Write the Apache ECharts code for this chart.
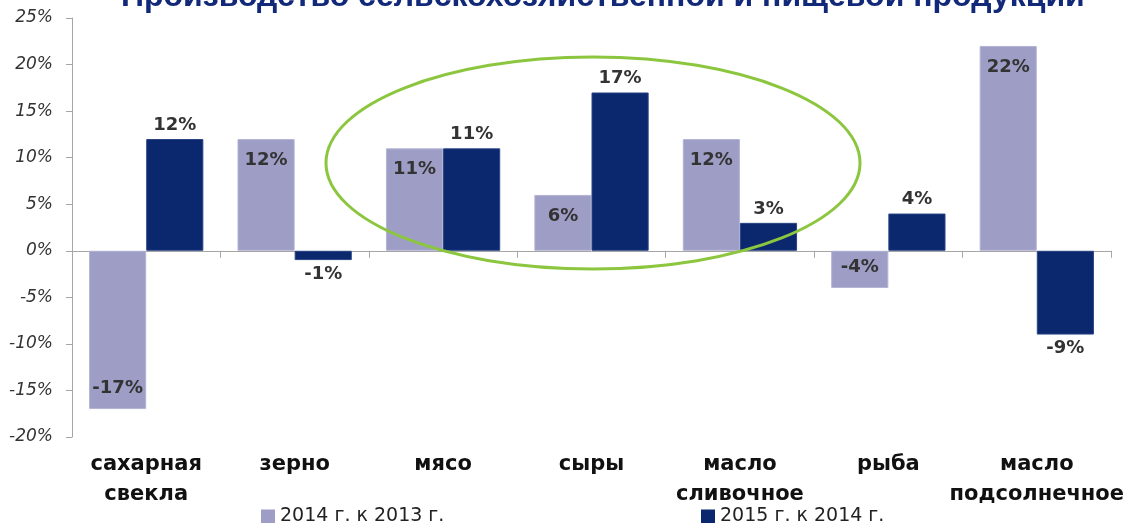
<!DOCTYPE html>
<html>
<head>
<meta charset="utf-8">
<script src="https://cdn.jsdelivr.net/npm/echarts@6/dist/echarts.min.js"></script>
<style>
  html, body { margin: 0; padding: 0; background: #fff; }
  #chart { width: 1134px; height: 523px; }
</style>
</head>
<body>
<div id="chart"></div>
<script>
var categories = ['сахарная\nсвекла', 'зерно', 'мясо', 'сыры', 'масло\nсливочное', 'рыба', 'масло\nподсолнечное'];
var series2014 = [-17, 12, 11, 6, 12, -4, 22];
var series2015 = [12, -1, 11, 17, 3, 4, -9];
var seriesNames = ['2014 г. к 2013 г.', '2015 г. к 2014 г.'];

var chart = echarts.init(document.getElementById('chart'));

var labelFont = { fontFamily: 'DejaVu Sans', fontWeight: 'bold', fontSize: 18, color: '#333' };

function lightData(arr) {
    return arr.map(function (v) {
        return { value: v, label: { position: v >= 0 ? 'insideTop' : 'insideBottom', distance: 12 } };
    });
}
function darkData(arr) {
    return arr.map(function (v) {
        return { value: v, label: { position: v >= 0 ? 'top' : 'bottom', distance: 5 } };
    });
}

var legendText = { fontFamily: 'DejaVu Sans', fontSize: 19, color: '#222' };

var option = {
    animation: false,
    title: {
        text: 'Производство сельскохозяйственной и пищевой продукции',
        left: 116,
        top: -24,
        textStyle: { fontFamily: 'Liberation Sans', fontWeight: 'bold', fontSize: 32, color: '#12297a' }
    },
    legend: [{
        data: [seriesNames[0]],
        left: 256,
        top: 502,
        icon: 'rect',
        itemWidth: 14,
        itemHeight: 14,
        itemGap: 6,
        itemStyle: { borderWidth: 0 },
        textStyle: legendText
    }, {
        data: [seriesNames[1]],
        left: 696,
        top: 502,
        icon: 'rect',
        itemWidth: 14,
        itemHeight: 14,
        itemGap: 6,
        itemStyle: { borderWidth: 0 },
        textStyle: legendText
    }],
    grid: { left: 72, right: 23, top: 18, bottom: 86 },
    xAxis: [{
        type: 'category',
        data: categories,
        axisLine: { onZero: true, lineStyle: { color: '#a6a6a6', width: 1 } },
        axisTick: { show: true, length: 7, lineStyle: { color: '#a6a6a6' } },
        axisLabel: { show: false }
    }, {
        type: 'category',
        data: categories,
        position: 'bottom',
        axisLine: { show: false, onZero: false },
        axisTick: { show: false },
        axisLabel: {
            margin: 13,
            interval: 0,
            fontFamily: 'DejaVu Sans',
            fontWeight: 'bold',
            fontSize: 21,
            lineHeight: 30,
            color: '#111'
        }
    }],
    yAxis: {
        type: 'value',
        min: -20,
        max: 25,
        interval: 5,
        axisLine: { show: true, lineStyle: { color: '#a6a6a6' } },
        axisTick: { show: true, length: 6, lineStyle: { color: '#a6a6a6' } },
        splitLine: { show: false },
        axisLabel: {
            formatter: '{value}%',
            margin: 19,
            fontFamily: 'DejaVu Sans',
            fontStyle: 'italic',
            fontSize: 17,
            color: '#333'
        }
    },
    series: [{
        name: seriesNames[0],
        type: 'bar',
        xAxisIndex: 0,
        data: lightData(series2014),
        barGap: '0%',
        barCategoryGap: '23%',
        itemStyle: { color: '#9d9dc6', borderColor: '#b4b4d6', borderWidth: 1 },
        label: Object.assign({ show: true, formatter: '{c}%' }, labelFont)
    }, {
        name: seriesNames[1],
        type: 'bar',
        xAxisIndex: 0,
        data: darkData(series2015),
        barGap: '0%',
        barCategoryGap: '23%',
        itemStyle: { color: '#0b286e', borderColor: '#2a4585', borderWidth: 1 },
        label: Object.assign({ show: true, formatter: '{c}%' }, labelFont)
    }],
    graphic: [{
        type: 'ellipse',
        shape: { cx: 593, cy: 163, rx: 267, ry: 106 },
        style: { fill: 'none', stroke: '#8cc63f', lineWidth: 3 },
        z: 100
    }]
};

chart.setOption(option);
</script>
</body>
</html>
